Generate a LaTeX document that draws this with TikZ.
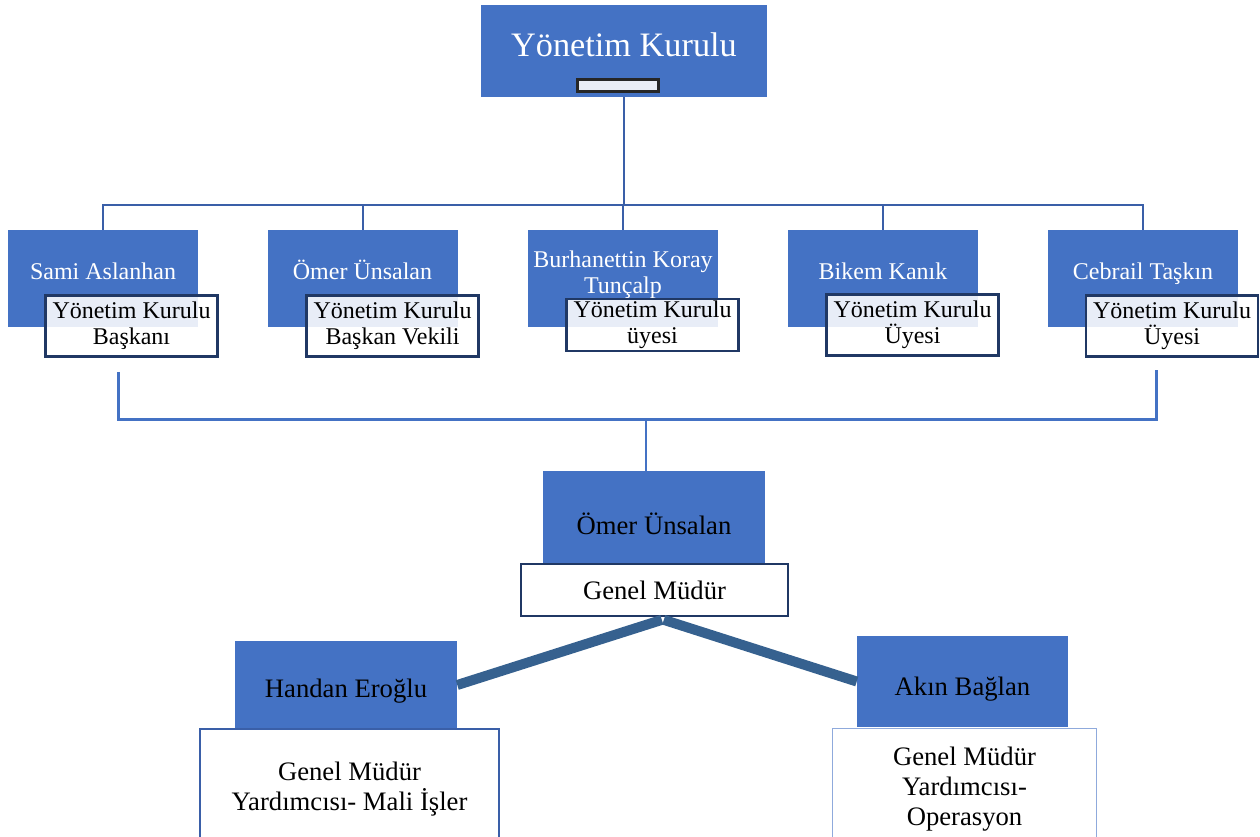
\documentclass[tikz,border=0pt]{standalone}
\usepackage{fontspec}
\setmainfont{Liberation Serif}
\usetikzlibrary{positioning}

\definecolor{boxblue}{HTML}{4472C4}
\definecolor{treeblue}{HTML}{3A5FA8}
\definecolor{navy}{HTML}{203864}
\definecolor{diagblue}{HTML}{36618F}
\definecolor{paleblue}{HTML}{E9EDF5}
\definecolor{greyblue}{HTML}{8FAADC}

\tikzset{
	bluebox/.style={fill=boxblue, draw=none, inner sep=0pt},
	rolebox/.style={fill=white, fill opacity=0.88, text opacity=1, draw=navy, line width=1.8pt,
		inner sep=0pt, minimum width=129pt, minimum height=46pt, align=center,
		font=\fontsize{18}{19.5}\selectfont},
	nametext/.style={text=white, align=center, font=\fontsize{18}{19.5}\selectfont},
	bigtext/.style={align=center, font=\fontsize{20}{22.5}\selectfont},
	tree/.style={draw=treeblue, line width=1.5pt},
	bracket/.style={draw=boxblue, line width=2.25pt},
	diag/.style={draw=diagblue, line width=7.5pt}
}

\begin{document}
\begin{tikzpicture}[x=0.75pt,y=-0.75pt]
	\useasboundingbox (0,0) rectangle (1260,837);

	% board
	\node (title)   at (624,51)  [bluebox, minimum width=214.5pt, minimum height=69pt] {};
	\node (titlet)  at (624,45)  [text=white, font=\fontsize{25.7}{28}\selectfont] {Yönetim Kurulu};
	\node (titlebar) at (618,85.5) [fill=paleblue, draw=black!85, line width=2.25pt, inner sep=0pt,
		minimum width=61pt, minimum height=9pt] {};

	\node (sami)    at (103,278.5)  [bluebox, minimum width=142.5pt, minimum height=72.75pt] {};
	\node (omer)    at (362.5,278.5) [bluebox, minimum width=142.5pt, minimum height=72.75pt] {};
	\node (koray)   at (623,278.5)  [bluebox, minimum width=142.5pt, minimum height=72.75pt] {};
	\node (bikem)   at (883,278.5)  [bluebox, minimum width=142.5pt, minimum height=72.75pt] {};
	\node (cebrail) at (1143,278.5) [bluebox, minimum width=142.5pt, minimum height=72.75pt] {};

	\node (samit)    at (103,280)   [nametext, anchor=base] {Sami Aslanhan};
	\node (omert)    at (362.5,280) [nametext, anchor=base] {Ömer Ünsalan};
	\node (korayt)   at (623,275)   [nametext] {Burhanettin Koray\\Tunçalp};
	\node (bikemt)   at (883,280)   [nametext, anchor=base] {Bikem Kanık};
	\node (cebrailt) at (1143,280)  [nametext, anchor=base] {Cebrail Taşkın};

	\node (samir)    at (131.5,326)  [rolebox] {Yönetim Kurulu\\Başkanı};
	\node (omerr)    at (392.5,326)  [rolebox] {Yönetim Kurulu\\Başkan Vekili};
	\node (korayr)   at (652.5,325)  [rolebox, minimum height=39pt] {Yönetim Kurulu\\üyesi};
	\node (bikemr)   at (912.5,325)  [rolebox] {Yönetim Kurulu\\Üyesi};
	\node (cebrailr) at (1172,326)   [rolebox] {Yönetim Kurulu\\Üyesi};

	\coordinate (hub) at (624,205);
	\draw [tree] (title.south) -- (hub);
	\foreach \n in {sami,omer,koray,bikem,cebrail}
		\draw [tree] (hub) -| (\n.north);

	% general manager
	\node (gm)   at (654,518)   [bluebox, minimum width=166.5pt, minimum height=70.5pt] {};
	\node (gmt)  at (654,524)   [bigtext, text=black] {Ömer Ünsalan};
	\node (gmr)  at (654.5,590) [bigtext, fill=white, draw=navy, line width=1.8pt, inner sep=0pt,
		minimum width=200pt, minimum height=39pt] {Genel Müdür};

	\coordinate (bl) at (118,372);
	\coordinate (br) at (1156,370);
	\coordinate (jn) at (646,420);
	\draw [bracket] (bl) |- (jn) -| (br);
	\draw [tree, draw=boxblue] (jn) -- (gm.north -| jn);

	% assistants
	\node (handan)  at (346,685)    [bluebox, minimum width=166.5pt, minimum height=66pt] {};
	\node (handant) at (346,697)    [bigtext, anchor=base] {Handan Eroğlu};
	\node (handanr) at (349.5,789.5) [bigtext, fill=white, draw=treeblue, line width=1.5pt, inner sep=0pt,
		minimum width=224pt, minimum height=91pt] {Genel Müdür\\Yardımcısı- Mali İşler};

	\node (akin)  at (962.5,681.5)  [bluebox, minimum width=158.25pt, minimum height=68.25pt] {};
	\node (akint) at (962.5,695)    [bigtext, anchor=base] {Akın Bağlan};
	\node (akinr) at (964.5,789.5)  [bigtext, fill=white, draw=greyblue, line width=0.8pt, inner sep=0pt,
		minimum width=198pt, minimum height=92pt] {Genel Müdür\\Yardımcısı-\\Operasyon};

	\draw [diag] ([xshift=5.5pt,yshift=-2pt]gmr.south) -- (handan.east);
	\draw [diag] ([xshift=7pt,yshift=-2pt]gmr.south) -- (akin.west);
\end{tikzpicture}
\end{document}
